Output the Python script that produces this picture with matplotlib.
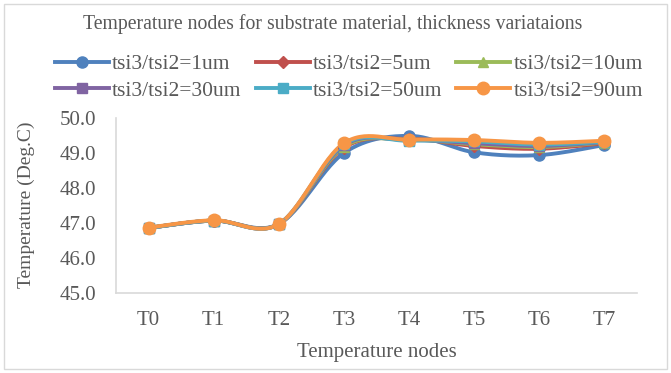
import matplotlib.pyplot as plt
from matplotlib.patches import Rectangle
from matplotlib.lines import Line2D
import numpy as np

plt.rcParams['font.family'] = 'Liberation Serif'

nodes = ['T0', 'T1', 'T2', 'T3', 'T4', 'T5', 'T6', 'T7']
labels = ['tsi3/tsi2=1um', 'tsi3/tsi2=5um', 'tsi3/tsi2=10um',
          'tsi3/tsi2=30um', 'tsi3/tsi2=50um', 'tsi3/tsi2=90um']
t_1um = [46.86, 47.07, 46.97, 49.00, 49.49, 49.02, 48.94, 49.23]
t_5um = [46.86, 47.07, 46.97, 49.15, 49.40, 49.20, 49.12, 49.28]
t_10um = [46.86, 47.07, 46.97, 49.18, 49.38, 49.25, 49.17, 49.30]
t_30um = [46.86, 47.07, 46.97, 49.22, 49.37, 49.28, 49.20, 49.31]
t_50um = [46.86, 47.07, 46.97, 49.25, 49.35, 49.33, 49.24, 49.32]
t_90um = [46.87, 47.08, 46.97, 49.28, 49.38, 49.37, 49.29, 49.35]

series = [t_1um, t_5um, t_10um, t_30um, t_50um, t_90um]
colors = ['#4F81BD', '#C0504D', '#9BBB59', '#8064A2', '#4BACC6', '#F79646']
markers = ['o', 'D', '^', 's', 's', 'o']
msizes = [8, 6, 7, 7, 7, 9]
grey = '#595959'


def smooth(x, y, n=30):
    # excel-like smoothed line (bezier through the points)
    x = np.asarray(x, float)
    y = np.asarray(y, float)
    px = np.concatenate([[x[0]], x, [x[-1]]])
    py = np.concatenate([[y[0]], y, [y[-1]]])
    xs, ys = [], []
    t = np.linspace(0, 1, n)
    for i in range(1, len(px) - 2):
        p0 = np.array([px[i], py[i]])
        p3 = np.array([px[i + 1], py[i + 1]])
        p1 = p0 + (np.array([px[i + 1], py[i + 1]]) - np.array([px[i - 1], py[i - 1]])) / 6
        p2 = p3 - (np.array([px[i + 2], py[i + 2]]) - np.array([px[i], py[i]])) / 6
        b = ((1 - t) ** 3)[:, None] * p0 + (3 * (1 - t) ** 2 * t)[:, None] * p1 \
            + (3 * (1 - t) * t ** 2)[:, None] * p2 + (t ** 3)[:, None] * p3
        xs.extend(b[:, 0])
        ys.extend(b[:, 1])
    return np.array(xs), np.array(ys)


fig = plt.figure(figsize=(6.71, 3.73), dpi=100)
fig.patch.set_facecolor('white')
fig.patches.append(Rectangle((4 / 671, 4 / 373), 663 / 671, 365 / 373,
                             transform=fig.transFigure, fill=False,
                             edgecolor='#D9D9D9', linewidth=1))

ax = fig.add_axes([116 / 671, 1 - 293 / 373, 521 / 671, 175 / 373])
x = np.arange(len(nodes))
for vals, c, m, ms in zip(series, colors, markers, msizes):
    sx, sy = smooth(x, vals)
    ax.plot(sx, sy, color=c, linewidth=2.8, solid_capstyle='round', zorder=2)
    ax.plot(x, vals, linestyle='none', marker=m, markersize=ms,
            color=c, markeredgecolor=c, zorder=3)

ax.set_xlim(-0.5, len(nodes) - 0.5)
ax.set_ylim(45, 50)
ax.set_yticks(np.arange(45, 50.5, 1.0))
ax.set_yticklabels([f'{v:.1f}' for v in np.arange(45, 50.5, 1.0)])
ax.set_xticks(x)
ax.set_xticklabels(nodes)
ax.tick_params(length=0, labelsize=15, colors=grey)
ax.tick_params(axis='x', pad=13)
ax.tick_params(axis='y', pad=14)
for s in ['top', 'right']:
    ax.spines[s].set_visible(False)
for s in ['left', 'bottom']:
    ax.spines[s].set_color('#D9D9D9')
    ax.spines[s].set_linewidth(1.2)

ax.set_xlabel('Temperature nodes', fontsize=15, color=grey, va='center')
ax.xaxis.set_label_coords(0.5, (293 - 352) / 175)
fig.text(26 / 671, 1 - 205 / 373, 'Temperature (Deg.C)', rotation=90,
         ha='center', va='center', fontsize=14, color=grey)

fig.text(333 / 671, 1 - 24 / 373,
         'Temperature nodes for substrate material, thickness variataions',
         ha='center', va='center', fontsize=14.2, color=grey)

handles = [Line2D([0], [0], color=c, linewidth=2.8, marker=m, markersize=ms,
                  markeredgecolor=c)
           for c, m, ms in zip(colors, markers, msizes)]
# legend fills columns first, so reorder to read row by row
order = [0, 3, 1, 4, 2, 5]
leg = fig.legend([handles[i] for i in order], [labels[i] for i in order],
                 loc='center', ncol=3,
                 bbox_to_anchor=(349 / 671, 1 - 77.5 / 373), frameon=False,
                 fontsize=15.5, handlelength=2.5, handletextpad=0.15,
                 columnspacing=0.65, labelspacing=0.3, labelcolor=grey,
                 borderpad=0)

fig.savefig('out.png', dpi=100, facecolor='white')
